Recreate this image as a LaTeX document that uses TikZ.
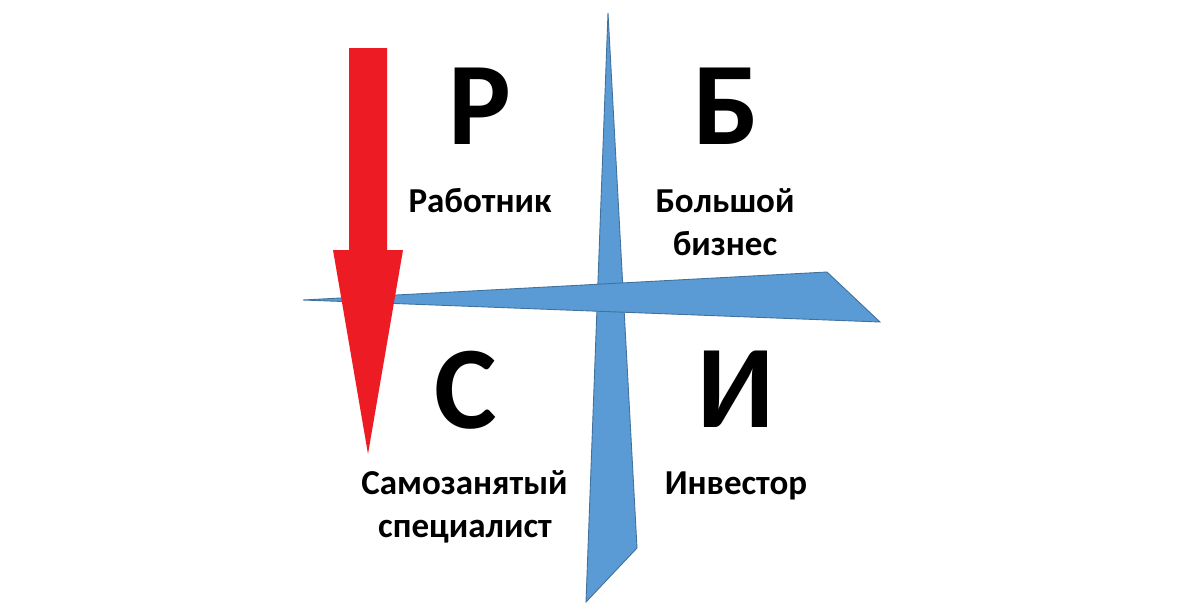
\documentclass[tikz,border=0pt]{standalone}
\usepackage{fontspec}
\setmainfont{Carlito}
\definecolor{bluefill}{HTML}{5B9BD5}
\definecolor{blueline}{HTML}{41719C}
\definecolor{redfill}{HTML}{ED1C24}
\begin{document}
\begin{tikzpicture}[x=1pt,y=-1pt,
  blueshape/.style={fill=bluefill,draw=blueline,line width=0.9pt,line join=miter},
  redshape/.style={fill=redfill,draw=none},
  bigletter/.style={anchor=base,inner sep=0pt,font=\fontsize{118}{118}\selectfont\bfseries},
  label/.style={anchor=base,inner sep=0pt,font=\fontsize{35}{43}\selectfont\bfseries}]
\useasboundingbox[fill=white] (0,0) rectangle (1200,613);
% vertical blue wedge
\filldraw[blueshape] (608,13) -- (637,548) -- (586,602) -- cycle;
% horizontal blue wedge
\filldraw[blueshape] (303,300) -- (827,272) -- (880,322) -- cycle;
% red arrow
\fill[redshape] (349,48) -- (387,48) -- (387,250) -- (403,250) -- (368,454) -- (333,250) -- (349,250) -- cycle;
% letters
\node[bigletter] (R) at (480,144) {Р};
\node[bigletter] (B) at (726,144) {Б};
\node[bigletter] (S) at (466,428) {С};
\node[bigletter] (I) at (735.5,427) {И};
% labels
\node[label] (rab) at (480,212) {Работник};
\node[label] (bol1) at (725,212) {Большой};
\node[label] (bol2) at (725,255) {бизнес};
\node[label] (sam1) at (464.5,494) {Самозанятый};
\node[label] (sam2) at (465,537) {специалист};
\node[label] (inv) at (736,494) {Инвестор};
\end{tikzpicture}
\end{document}
